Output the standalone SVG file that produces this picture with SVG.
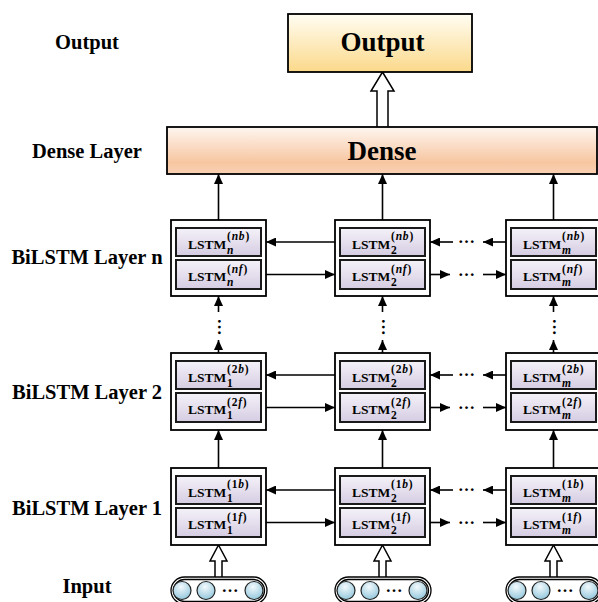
<svg xmlns="http://www.w3.org/2000/svg" width="598" height="602" viewBox="0 0 598 602">
<defs>
  <linearGradient id="gOut" x1="0" y1="0" x2="0" y2="1">
    <stop offset="0" stop-color="#fffdf3"/><stop offset="1" stop-color="#fbd98a"/>
  </linearGradient>
  <linearGradient id="gDense" x1="0" y1="0" x2="0" y2="1">
    <stop offset="0" stop-color="#fef6f0"/><stop offset="0.75" stop-color="#f7c6a1"/><stop offset="1" stop-color="#f9d1b4"/>
  </linearGradient>
  <linearGradient id="gCell" x1="0" y1="0" x2="0" y2="1">
    <stop offset="0" stop-color="#f5f2f9"/><stop offset="1" stop-color="#d5cce2"/>
  </linearGradient>
  <radialGradient id="gBall" cx="0.45" cy="0.3" r="0.75">
    <stop offset="0" stop-color="#f3fafd"/><stop offset="1" stop-color="#8ec4da"/>
  </radialGradient>
  <marker id="ah" viewBox="0 0 10 9" refX="10" refY="4.5" markerWidth="10" markerHeight="9" markerUnits="userSpaceOnUse" orient="auto">
    <path d="M0,0 L10,4.5 L0,9 z" fill="#000"/>
  </marker>
</defs>
<style>
  .lbl{font-family:"Liberation Serif","Times New Roman",serif;font-weight:bold;font-size:20.5px;text-anchor:middle;fill:#000}
  .big{font-family:"Liberation Serif","Times New Roman",serif;font-weight:bold;font-size:27px;text-anchor:middle;fill:#000}
  .box{stroke:#000;stroke-width:1.8}
  .outer{fill:#fff;stroke:#000;stroke-width:1.8}
  .cell{fill:url(#gCell);stroke:#1a1a1a;stroke-width:2}
  .ct{font-family:"Liberation Serif","Times New Roman",serif;font-weight:bold;font-size:13.5px;fill:#000}
  .sm{font-size:11.5px;letter-spacing:0.8px}
  .it{font-style:italic}
  .con{stroke:#000;stroke-width:1.6;fill:none;marker-end:url(#ah)}
  .dots{font-family:"Liberation Serif","Times New Roman",serif;font-weight:bold;font-size:17px;text-anchor:middle;fill:#000}
  .hollow{fill:#fff;stroke:#000;stroke-width:1.5;stroke-linejoin:miter}
  .cap{fill:#fff;stroke:#000;stroke-width:1.3}
  .ball{fill:url(#gBall);stroke:#222;stroke-width:1.2}
</style>

<g id="labels">
  <text class="lbl" x="87" y="49">Output</text>
  <text class="lbl" x="87" y="158">Dense Layer</text>
  <text class="lbl" x="87" y="264">BiLSTM Layer n</text>
  <text class="lbl" x="87" y="399">BiLSTM Layer 2</text>
  <text class="lbl" x="87" y="515">BiLSTM Layer 1</text>
  <text class="lbl" x="87" y="593">Input</text>
</g>

<g id="connectors">
  <line class="con" x1="218.5" y1="220" x2="218.5" y2="174"/>
  <line class="con" x1="382.5" y1="220" x2="382.5" y2="174"/>
  <line class="con" x1="553.5" y1="220" x2="553.5" y2="174"/>
  <line class="con" x1="218.5" y1="312" x2="218.5" y2="296"/>
  <line class="con" x1="382.5" y1="312" x2="382.5" y2="296"/>
  <line class="con" x1="553.5" y1="312" x2="553.5" y2="296"/>
  <text class="dots" transform="translate(218.5,327) rotate(90)" x="0" y="1">…</text>
  <text class="dots" transform="translate(382.5,327) rotate(90)" x="0" y="1">…</text>
  <text class="dots" transform="translate(553.5,327) rotate(90)" x="0" y="1">…</text>
  <line class="con" x1="218.5" y1="353" x2="218.5" y2="340"/>
  <line class="con" x1="382.5" y1="353" x2="382.5" y2="340"/>
  <line class="con" x1="553.5" y1="353" x2="553.5" y2="340"/>
  <line class="con" x1="218.5" y1="468" x2="218.5" y2="430"/>
  <line class="con" x1="382.5" y1="468" x2="382.5" y2="430"/>
  <line class="con" x1="553.5" y1="468" x2="553.5" y2="430"/>

  <line class="con" x1="335" y1="242" x2="266" y2="242"/>
  <line class="con" x1="266" y1="274.5" x2="335" y2="274.5"/>
  <line class="con" x1="453" y1="242" x2="430" y2="242"/>
  <line class="con" x1="506" y1="242" x2="483" y2="242"/>
  <text class="dots" x="466.5" y="243">…</text>
  <line class="con" x1="430" y1="274.5" x2="450" y2="274.5"/>
  <line class="con" x1="483" y1="274.5" x2="506" y2="274.5"/>
  <text class="dots" x="466.5" y="275.5">…</text>

  <line class="con" x1="335" y1="375" x2="266" y2="375"/>
  <line class="con" x1="266" y1="407.5" x2="335" y2="407.5"/>
  <line class="con" x1="453" y1="375" x2="430" y2="375"/>
  <line class="con" x1="506" y1="375" x2="483" y2="375"/>
  <text class="dots" x="466.5" y="376">…</text>
  <line class="con" x1="430" y1="407.5" x2="450" y2="407.5"/>
  <line class="con" x1="483" y1="407.5" x2="506" y2="407.5"/>
  <text class="dots" x="466.5" y="408.5">…</text>

  <line class="con" x1="335" y1="490" x2="266" y2="490"/>
  <line class="con" x1="266" y1="522.5" x2="335" y2="522.5"/>
  <line class="con" x1="453" y1="490" x2="430" y2="490"/>
  <line class="con" x1="506" y1="490" x2="483" y2="490"/>
  <text class="dots" x="466.5" y="491">…</text>
  <line class="con" x1="430" y1="522.5" x2="450" y2="522.5"/>
  <line class="con" x1="483" y1="522.5" x2="506" y2="522.5"/>
  <text class="dots" x="466.5" y="523.5">…</text>

  <path class="hollow" d="M377,127 L377,91 L371,91 L382.5,72 L394,91 L388,91 L388,127"/>
  <path class="hollow" d="M215,577 L215,561 L210,561 L218.5,545 L227,561 L222,561 L222,577"/>
  <path class="hollow" d="M379,577 L379,561 L374,561 L382.5,545 L391,561 L386,561 L386,577"/>
  <path class="hollow" d="M550,577 L550,561 L545,561 L553.5,545 L562,561 L557,561 L557,577"/>
</g>

<g id="output">
  <rect class="box" x="288" y="14" width="184" height="58" fill="url(#gOut)"/>
  <text class="big" x="382.5" y="51">Output</text>
</g>

<g id="dense">
  <rect class="box" x="167" y="127" width="430" height="47" fill="url(#gDense)"/>
  <text class="big" x="382" y="160">Dense</text>
</g>

<g id="bilstm-n-1">
  <rect class="outer" x="171" y="220" width="95" height="76"/>
  <rect class="cell" x="176" y="228" width="85" height="28"/>
  <text class="ct" x="188" y="248.5">LSTM</text>
  <text class="ct sm" x="227" y="240">(<tspan class="it">nb</tspan>)</text>
  <text class="ct sm it" x="227" y="253.5">n</text>
  <rect class="cell" x="176" y="260" width="85" height="29"/>
  <text class="ct" x="188" y="281">LSTM</text>
  <text class="ct sm" x="227" y="272.5">(<tspan class="it">nf</tspan>)</text>
  <text class="ct sm it" x="227" y="286">n</text>
</g>
<g id="bilstm-n-2">
  <rect class="outer" x="335" y="220" width="95" height="76"/>
  <rect class="cell" x="340" y="228" width="85" height="28"/>
  <text class="ct" x="352" y="248.5">LSTM</text>
  <text class="ct sm" x="391" y="240">(<tspan class="it">nb</tspan>)</text>
  <text class="ct sm" x="391" y="253.5">2</text>
  <rect class="cell" x="340" y="260" width="85" height="29"/>
  <text class="ct" x="352" y="281">LSTM</text>
  <text class="ct sm" x="391" y="272.5">(<tspan class="it">nf</tspan>)</text>
  <text class="ct sm" x="391" y="286">2</text>
</g>
<g id="bilstm-n-m">
  <rect class="outer" x="506" y="220" width="95" height="76"/>
  <rect class="cell" x="511" y="228" width="85" height="28"/>
  <text class="ct" x="523" y="248.5">LSTM</text>
  <text class="ct sm" x="562" y="240">(<tspan class="it">nb</tspan>)</text>
  <text class="ct sm it" x="562" y="253.5">m</text>
  <rect class="cell" x="511" y="260" width="85" height="29"/>
  <text class="ct" x="523" y="281">LSTM</text>
  <text class="ct sm" x="562" y="272.5">(<tspan class="it">nf</tspan>)</text>
  <text class="ct sm it" x="562" y="286">m</text>
</g>

<g id="bilstm-2-1">
  <rect class="outer" x="171" y="353" width="95" height="77"/>
  <rect class="cell" x="176" y="361" width="85" height="28"/>
  <text class="ct" x="188" y="381.5">LSTM</text>
  <text class="ct sm" x="227" y="373">(2<tspan class="it">b</tspan>)</text>
  <text class="ct sm" x="227" y="386.5">1</text>
  <rect class="cell" x="176" y="393" width="85" height="29"/>
  <text class="ct" x="188" y="414">LSTM</text>
  <text class="ct sm" x="227" y="405.5">(2<tspan class="it">f</tspan>)</text>
  <text class="ct sm" x="227" y="419">1</text>
</g>
<g id="bilstm-2-2">
  <rect class="outer" x="335" y="353" width="95" height="77"/>
  <rect class="cell" x="340" y="361" width="85" height="28"/>
  <text class="ct" x="352" y="381.5">LSTM</text>
  <text class="ct sm" x="391" y="373">(2<tspan class="it">b</tspan>)</text>
  <text class="ct sm" x="391" y="386.5">2</text>
  <rect class="cell" x="340" y="393" width="85" height="29"/>
  <text class="ct" x="352" y="414">LSTM</text>
  <text class="ct sm" x="391" y="405.5">(2<tspan class="it">f</tspan>)</text>
  <text class="ct sm" x="391" y="419">2</text>
</g>
<g id="bilstm-2-m">
  <rect class="outer" x="506" y="353" width="95" height="77"/>
  <rect class="cell" x="511" y="361" width="85" height="28"/>
  <text class="ct" x="523" y="381.5">LSTM</text>
  <text class="ct sm" x="562" y="373">(2<tspan class="it">b</tspan>)</text>
  <text class="ct sm it" x="562" y="386.5">m</text>
  <rect class="cell" x="511" y="393" width="85" height="29"/>
  <text class="ct" x="523" y="414">LSTM</text>
  <text class="ct sm" x="562" y="405.5">(2<tspan class="it">f</tspan>)</text>
  <text class="ct sm it" x="562" y="419">m</text>
</g>

<g id="bilstm-1-1">
  <rect class="outer" x="171" y="468" width="95" height="77"/>
  <rect class="cell" x="176" y="476" width="85" height="28"/>
  <text class="ct" x="188" y="496.5">LSTM</text>
  <text class="ct sm" x="227" y="488">(1<tspan class="it">b</tspan>)</text>
  <text class="ct sm" x="227" y="501.5">1</text>
  <rect class="cell" x="176" y="508" width="85" height="29"/>
  <text class="ct" x="188" y="529">LSTM</text>
  <text class="ct sm" x="227" y="520.5">(1<tspan class="it">f</tspan>)</text>
  <text class="ct sm" x="227" y="534">1</text>
</g>
<g id="bilstm-1-2">
  <rect class="outer" x="335" y="468" width="95" height="77"/>
  <rect class="cell" x="340" y="476" width="85" height="28"/>
  <text class="ct" x="352" y="496.5">LSTM</text>
  <text class="ct sm" x="391" y="488">(1<tspan class="it">b</tspan>)</text>
  <text class="ct sm" x="391" y="501.5">2</text>
  <rect class="cell" x="340" y="508" width="85" height="29"/>
  <text class="ct" x="352" y="529">LSTM</text>
  <text class="ct sm" x="391" y="520.5">(1<tspan class="it">f</tspan>)</text>
  <text class="ct sm" x="391" y="534">2</text>
</g>
<g id="bilstm-1-m">
  <rect class="outer" x="506" y="468" width="95" height="77"/>
  <rect class="cell" x="511" y="476" width="85" height="28"/>
  <text class="ct" x="523" y="496.5">LSTM</text>
  <text class="ct sm" x="562" y="488">(1<tspan class="it">b</tspan>)</text>
  <text class="ct sm it" x="562" y="501.5">m</text>
  <rect class="cell" x="511" y="508" width="85" height="29"/>
  <text class="ct" x="523" y="529">LSTM</text>
  <text class="ct sm" x="562" y="520.5">(1<tspan class="it">f</tspan>)</text>
  <text class="ct sm it" x="562" y="534">m</text>
</g>

<g id="input-1">
  <rect class="cap" x="171" y="577" width="96" height="27" rx="13.5"/>
  <rect class="cap" x="173.5" y="579.5" width="91" height="22" rx="11"/>
  <circle class="ball" cx="182" cy="590.5" r="9"/>
  <circle class="ball" cx="206" cy="590.5" r="9"/>
  <text class="dots" x="230" y="592">…</text>
  <circle class="ball" cx="254" cy="590.5" r="9"/>
</g>
<g id="input-2">
  <rect class="cap" x="335" y="577" width="96" height="27" rx="13.5"/>
  <rect class="cap" x="337.5" y="579.5" width="91" height="22" rx="11"/>
  <circle class="ball" cx="346" cy="590.5" r="9"/>
  <circle class="ball" cx="370" cy="590.5" r="9"/>
  <text class="dots" x="394" y="592">…</text>
  <circle class="ball" cx="418" cy="590.5" r="9"/>
</g>
<g id="input-m">
  <rect class="cap" x="506" y="577" width="96" height="27" rx="13.5"/>
  <rect class="cap" x="508.5" y="579.5" width="91" height="22" rx="11"/>
  <circle class="ball" cx="517" cy="590.5" r="9"/>
  <circle class="ball" cx="541" cy="590.5" r="9"/>
  <text class="dots" x="565" y="592">…</text>
  <circle class="ball" cx="589" cy="590.5" r="9"/>
</g>
</svg>
